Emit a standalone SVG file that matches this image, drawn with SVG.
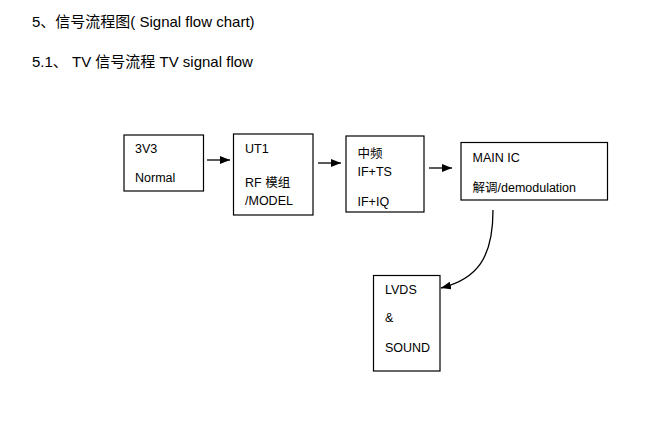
<svg xmlns="http://www.w3.org/2000/svg" width="649" height="421" viewBox="0 0 649 421">
<defs>
<style>
text{font-family:"Liberation Sans","Noto Sans CJK SC",sans-serif;fill:#000}
.t{font-size:15px}
.n{font-size:12.5px}
.box{fill:#fff;stroke:#000;stroke-width:1.2}
.c{fill:none;stroke:#000;stroke-width:1.3}
</style>
<marker id="ah" viewBox="0 0 10 8" refX="10" refY="4" markerWidth="10" markerHeight="8" markerUnits="userSpaceOnUse" orient="auto">
<path d="M0,0 L10,4 L0,8 Z" fill="#000"/>
</marker>
</defs>
<rect width="649" height="421" fill="#fff"/>
<text class="t" x="32" y="27">5、信号流程图( Signal flow chart)</text>
<text class="t" x="32" y="67">5.1、 TV 信号流程 TV signal flow</text>
<g id="n1">
<rect class="box" x="124" y="135" width="79.5" height="56"/>
<text class="n" x="135" y="153">3V3</text>
<text class="n" x="135" y="182">Normal</text>
</g>
<g id="n2">
<rect class="box" x="233.5" y="134" width="79.5" height="81"/>
<text class="n" x="245" y="153">UT1</text>
<text class="n" x="245" y="187">RF 模组</text>
<text class="n" x="245" y="205">/MODEL</text>
</g>
<g id="n3">
<rect class="box" x="346" y="136" width="78" height="76"/>
<text class="n" x="357.5" y="158">中频</text>
<text class="n" x="357.5" y="176">IF+TS</text>
<text class="n" x="357.5" y="206">IF+IQ</text>
</g>
<g id="n4">
<rect class="box" x="461" y="142.5" width="146.5" height="57.5"/>
<text class="n" x="472.5" y="162">MAIN IC</text>
<text class="n" x="472.5" y="192">解调/demodulation</text>
</g>
<g id="n5">
<rect class="box" x="373.5" y="275.5" width="66.5" height="95.5"/>
<text class="n" x="385" y="294">LVDS</text>
<text class="n" x="385" y="322">&amp;</text>
<text class="n" x="385" y="352">SOUND</text>
</g>
<g id="connectors">
<line class="c" x1="207" y1="160" x2="230" y2="160" marker-end="url(#ah)"/>
<line class="c" x1="318" y1="163" x2="341" y2="163" marker-end="url(#ah)"/>
<line class="c" x1="429" y1="168" x2="452" y2="168" marker-end="url(#ah)"/>
<path class="c" d="M493,210 C493,258 477,279 441,288" marker-end="url(#ah)"/>
</g>
</svg>
